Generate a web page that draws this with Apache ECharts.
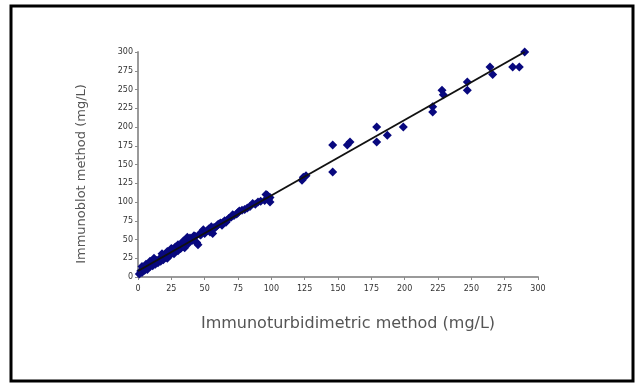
<!DOCTYPE html>
<html><head><meta charset="utf-8">
<script src="https://cdn.jsdelivr.net/npm/echarts@6/dist/echarts.min.js"></script>
<style>html,body{margin:0;padding:0;background:#fff}#c{width:636px;height:385px}</style>
</head><body><div id="c"></div>
<script>
const xValues = [1,2,3,4,5,6,7,8,9,10,11,12,13,14,15,16,17,18,19,20,21,22,23,24,25,26,27,28,29,30,31,32,33,34,35,36,37,38,40,41,42,44,45,46,48,49,50,52,54,55,56,58,59,60,62,63,65,66,68,70,72,74,76,78,80,82,84,86,88,90,92,95,97,99,99,124,123,126,146,157,159,146,179,187,179,199,221,221,228,229,247,247,264,266,281,286,290,3,6,9,12,18,22,26,30,34,39,43,47,53,57,61,64,67,71,75,96,98];
const yValues = [4,8,6,11,9,13,10,16,14,18,15,20,17,22,19,24,21,27,23,30,26,25,33,29,38,34,31,40,37,35,42,38,44,41,39,47,53,45,50,49,55,46,43,57,60,63,58,62,60,67,58,66,68,70,72,69,75,73,78,80,82,84,88,89,90,92,94,98,97,100,101,102,109,100,106,133,129,135,176,176,180,140,200,189,180,200,227,220,249,243,260,249,280,270,280,280,300,14,17,21,25,31,34,37,43,48,52,54,56,64,66,71,73,76,83,86,110,104];
const fitX = [0, 290];
const fitY = [8, 300];
const tickValues = [0,25,50,75,100,125,150,175,200,225,250,275,300];
const xName = 'Immunoturbidimetric method (mg/L)';
const yName = 'Immunoblot method (mg/L)';

const pts = xValues.map((x,i)=>[x, yValues[i]]);
const fit = fitX.map((x,i)=>[x, fitY[i]]);
const chart = echarts.init(document.getElementById('c'), null, {renderer:'canvas'});
const axisCommon = {
  type:'value', min:tickValues[0], max:tickValues[tickValues.length-1], interval:tickValues[1]-tickValues[0],
  axisLine:{show:true, lineStyle:{color:'#9a9a9a', width:2}},
  axisTick:{show:true, length:3, lineStyle:{color:'#8a8a8a'}},
  splitLine:{show:false},
  axisLabel:{fontFamily:'DejaVu Sans', fontSize:8, color:'#333', margin:5}
};
chart.setOption({
  animation:false,
  backgroundColor:'#fff',
  grid:{left:138, right:98, top:52, bottom:108, containLabel:false},
  xAxis: Object.assign({}, axisCommon, {axisLabel:Object.assign({}, axisCommon.axisLabel, {margin:8})}),
  yAxis: Object.assign({}, axisCommon),
  graphic:[
    {type:'rect', shape:{x:11, y:6, width:622, height:375}, style:{fill:'none', stroke:'#000', lineWidth:3}, silent:true},
    {type:'text', x:348, y:324, style:{text:xName, fontFamily:'DejaVu Sans', fontSize:16, fill:'#555', align:'center', verticalAlign:'middle'}},
    {type:'text', x:82, y:174, rotation:Math.PI/2, style:{text:yName, fontFamily:'DejaVu Sans', fontSize:13, fill:'#555', align:'center', verticalAlign:'middle'}}
  ],
  series:[
    {type:'scatter', data:pts, symbol:'diamond', symbolSize:9, itemStyle:{color:'#08087e', opacity:1}, z:2},
    {type:'line', data:fit, symbol:'none', lineStyle:{color:'#111', width:2}, z:3}
  ]
});
</script></body></html>
